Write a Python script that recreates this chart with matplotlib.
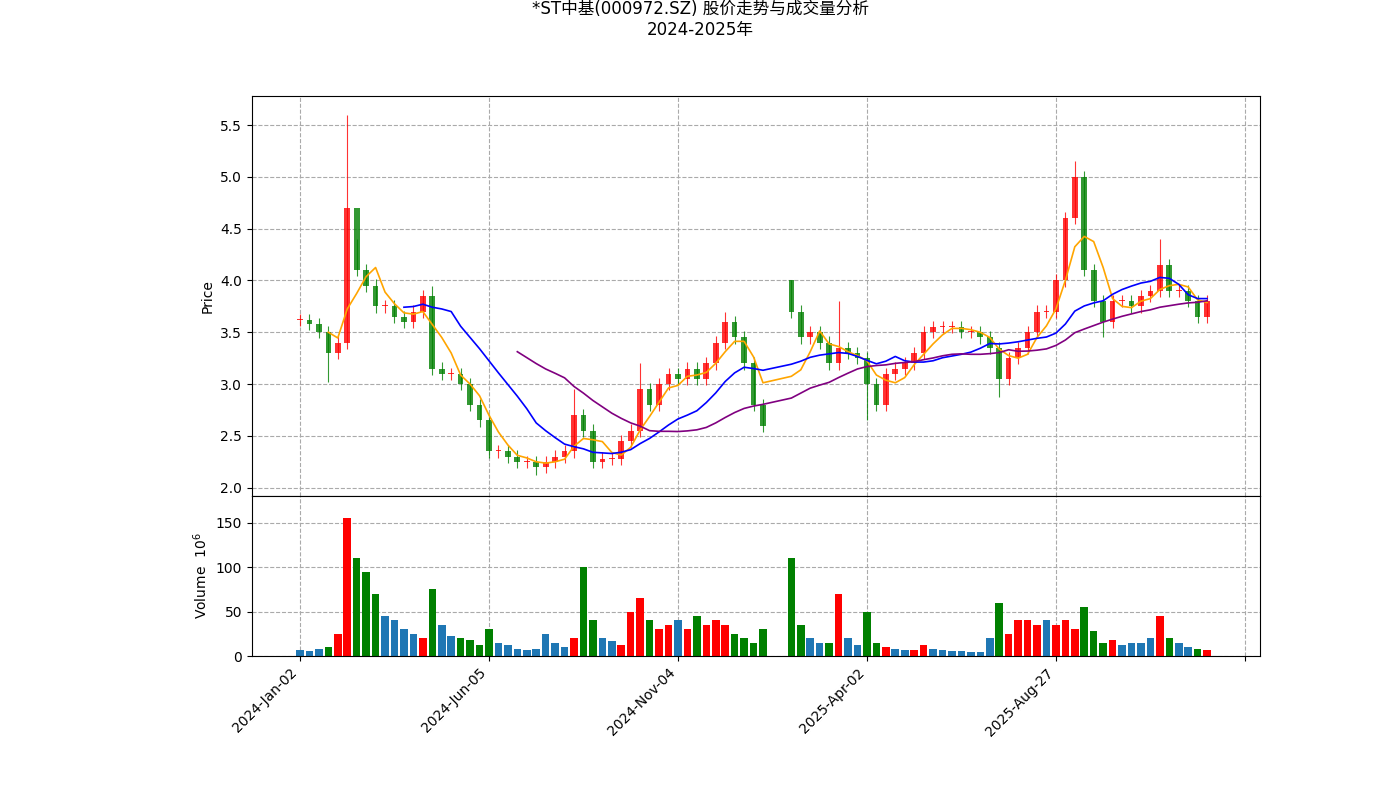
import numpy as np
import pandas as pd
import matplotlib
matplotlib.use("Agg")
from matplotlib import pyplot as plt

plt.rcParams['font.family'] = ['DejaVu Sans', 'Noto Sans CJK SC']

# weekly samples (every 5 trading days)
closes = [3.62, 3.58, 3.50, 3.30, 3.40, 4.70, 4.10, 3.95, 3.75, 3.75,
          3.65, 3.60, 3.70, 3.85, 3.15, 3.10, 3.10, 3.00, 2.80, 2.65,
          2.35, 2.35, 2.30, 2.25, 2.25, 2.20, 2.25, 2.30, 2.35, 2.70,
          2.55, 2.25, 2.28, 2.28, 2.45, 2.55, 2.95, 2.80, 3.00, 3.10,
          3.05, 3.15, 3.05, 3.20, 3.40, 3.60, 3.45, 3.20, 2.80, 2.60,
          np.nan, np.nan, 3.70, 3.45, 3.50, 3.40, 3.20, 3.35, 3.30, 3.25,
          3.00, 2.80, 3.10, 3.15, 3.20, 3.30, 3.50, 3.55, 3.55, 3.55,
          3.50, 3.50, 3.45, 3.35, 3.05, 3.25, 3.35, 3.50, 3.70, 3.70,
          4.00, 4.60, 5.00, 4.10, 3.80, 3.60, 3.80, 3.80, 3.75, 3.85,
          3.90, 4.15, 3.90, 3.90, 3.80, 3.65, 3.80]
high_marks = {5: 5.60, 6: 4.40, 14: 3.95, 29: 2.95, 36: 3.20, 45: 3.70,
              52: 4.00, 57: 3.80, 82: 5.15, 91: 4.40}
low_marks = {3: 3.02, 25: 2.12, 60: 2.65, 74: 2.88, 85: 3.45}
volumes = [7, 6, 8, 10, 25, 155, 110, 95, 70, 45,
           40, 30, 25, 20, 75, 35, 22, 20, 18, 12,
           30, 15, 12, 8, 7, 8, 25, 15, 10, 20,
           100, 40, 20, 17, 12, 50, 65, 40, 30, 35,
           40, 30, 45, 35, 40, 35, 25, 20, 15, 30,
           0, 0, 110, 35, 20, 15, 15, 70, 20, 12,
           50, 15, 10, 8, 7, 7, 12, 8, 7, 6,
           6, 5, 5, 20, 60, 25, 40, 40, 35, 40,
           35, 40, 30, 55, 28, 15, 18, 12, 15, 15,
           20, 45, 20, 15, 10, 8, 7]
tick_pos = [0, 100, 200, 300, 400, 500]
tick_labels = ['2024-Jan-02', '2024-Jun-05', '2024-Nov-04', '2025-Apr-02', '2025-Aug-27', '']
step = 5

df = pd.DataFrame({'close': closes, 'volume': volumes})
df['x'] = np.arange(len(df)) * step
df['open'] = df['close'].shift(1).fillna(df['close'])
df.loc[52, 'open'] = 4.0
df['high'] = df[['open', 'close']].max(axis=1) + 0.06
df['low'] = df[['open', 'close']].min(axis=1) - 0.06
for k, v in high_marks.items():
    df.loc[k, 'high'] = v
for k, v in low_marks.items():
    df.loc[k, 'low'] = v

valid = df['close'].dropna()
ma_specs = [(20, 'orange'), (60, 'blue'), (120, 'purple')]

fig = plt.figure(figsize=(14, 8), dpi=100)
ax = fig.add_axes([0.18, 0.38, 0.72, 0.50])
axv = fig.add_axes([0.18, 0.18, 0.72, 0.20], sharex=ax)

for _, r in df.dropna(subset=['close']).iterrows():
    up = r['close'] >= r['open']
    c = 'red' if up else 'green'
    ax.vlines(r['x'], r['low'], r['high'], color=c, linewidth=0.8, alpha=0.8)
    ax.bar(r['x'], abs(r['close'] - r['open']) or 0.01,
           bottom=min(r['open'], r['close']), width=3, color=c, alpha=0.8)

for days, col in ma_specs:
    ma = valid.rolling(days // step).mean()
    ax.plot(df.loc[ma.index, 'x'], ma, color=col, linewidth=1.2)

vcol = []
for _, r in df.iterrows():
    chg = (r['close'] - r['open']) / r['open'] if r['open'] == r['open'] else 0
    if chg > 0.03:
        vcol.append('red')
    elif chg < -0.03:
        vcol.append('green')
    else:
        vcol.append('#1f77b4')
axv.bar(df['x'], df['volume'], width=4, color=vcol)

ax.set_ylim(1.92, 5.78)
ax.set_xlim(-25.4, 508)
axv.set_ylim(0, 180)
ax.set_ylabel('Price')
axv.set_ylabel('Volume  $10^6$')
for a in (ax, axv):
    a.grid(True, linestyle='--', color='#aaaaaa')
    a.set_axisbelow(True)
plt.setp(ax.get_xticklabels(), visible=False)
axv.set_xticks(tick_pos)
axv.set_xticklabels(tick_labels, rotation=45, ha='right')

fig.suptitle('*ST中基(000972.SZ) 股价走势与成交量分析\n2024-2025年', y=1.0, fontsize=12)
fig.savefig('out.png')
